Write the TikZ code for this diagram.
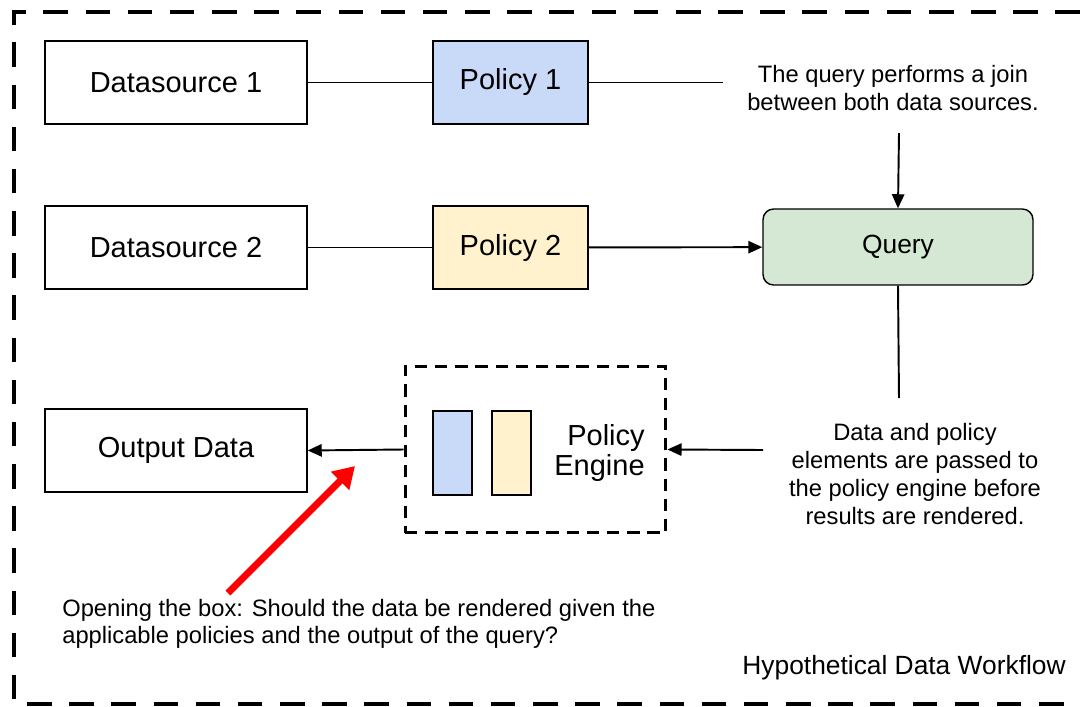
\documentclass[tikz,border=0pt]{standalone}
\usepackage{fontspec}
\setmainfont{Liberation Sans}
\usetikzlibrary{arrows.meta}

\definecolor{pblue}{HTML}{C9DAF8}
\definecolor{pyellow}{HTML}{FFF2CC}
\definecolor{qgreen}{HTML}{D5E8D4}

\begin{document}
\begin{tikzpicture}[x=0.02cm,y=-0.02cm,
    box/.style={draw,line width=0.8pt,minimum width=5.24cm,minimum height=1.66cm,
      font=\fontsize{16.5}{19.8}\selectfont},
    policybox/.style={box,minimum width=3.1cm},
    minibox/.style={draw,line width=0.8pt,minimum width=0.78cm,minimum height=1.68cm},
    note/.style={align=center,inner sep=0pt,font=\fontsize{13.5}{15.6}\selectfont},
    conn/.style={line width=1.1pt},
    arr/.style={conn,-{Triangle[length=8pt,width=7pt]}}]
  \useasboundingbox (0,0) rectangle (1080,707);
  % outer frame
  \draw[line width=2.8pt,dash pattern=on 14pt off 10pt] (1080,12) -- (14,12) -- (14,704) -- (1080,704);

  \node[box] (ds1) at (176,82.5) {Datasource 1};
  \node[policybox,fill=pblue] (pol1) at (510.5,82.5) {Policy 1};
  \node[box] (ds2) at (176,247.5) {Datasource 2};
  \node[policybox,fill=pyellow] (pol2) at (510.5,247.5) {Policy 2};
  \node[box,rounded corners=6pt,minimum width=5.4cm,minimum height=1.52cm,fill=qgreen,
    font=\fontsize{15}{18}\selectfont] (query) at (898,247) {Query};
  \node[box] (out) at (176,450.5) {Output Data};

  % policy engine
  \node[draw,line width=1.7pt,dash pattern=on 7pt off 4.5pt,minimum width=5.22cm,
    minimum height=3.34cm] (engine) at (535.5,449.5) {};
  \node[minibox,fill=pblue] (eblue) at (452.5,453) {};
  \node[minibox,fill=pyellow] (eyellow) at (511.5,453) {};
  \node[anchor=east,align=right,inner sep=0pt,font=\fontsize{16.5}{17.6}\selectfont]
    (elabel) at (645,453) {Policy\\Engine};

  % notes
  \node[note] (joinnote) at (893,88) {The query performs a join\\between both data sources.};
  \node[note,font=\fontsize{13.5}{15.9}\selectfont] (datanote) at (915,474)
    {Data and policy\\elements are passed to\\the policy engine before\\results are rendered.};
  \node[note,anchor=west,align=left] (opennote) at (62,624)
    {Opening the box: Should the data be rendered given the\\applicable policies and the output of the query?};
  \node[anchor=east,inner sep=0pt,font=\fontsize{15}{18}\selectfont] (title) at (1066,668)
    {Hypothetical Data Workflow};

  \coordinate (j1) at (723,82.5);
  \coordinate (j2) at (899,133);
  \coordinate (d1) at (899,398);
  \coordinate (d2) at (763,450);
  \coordinate (r1) at (228,593);
  \coordinate (r2) at (355,466);

  \draw[conn] (ds1) -- (pol1);
  \draw[conn] (pol1) -- (j1);
  \draw[arr] (j2) -- (query.north);
  \draw[conn] (ds2) -- (pol2);
  \draw[arr] (pol2) -- (query);
  \draw[conn] (query.south) -- (d1);
  \draw[arr] (d2) -- (engine.east);
  \draw[arr] (engine.west) -- (out.east);
  \draw[red,line width=4pt,-{Triangle[length=12pt,width=14pt]}] (r1) -- (r2);
\end{tikzpicture}
\end{document}
